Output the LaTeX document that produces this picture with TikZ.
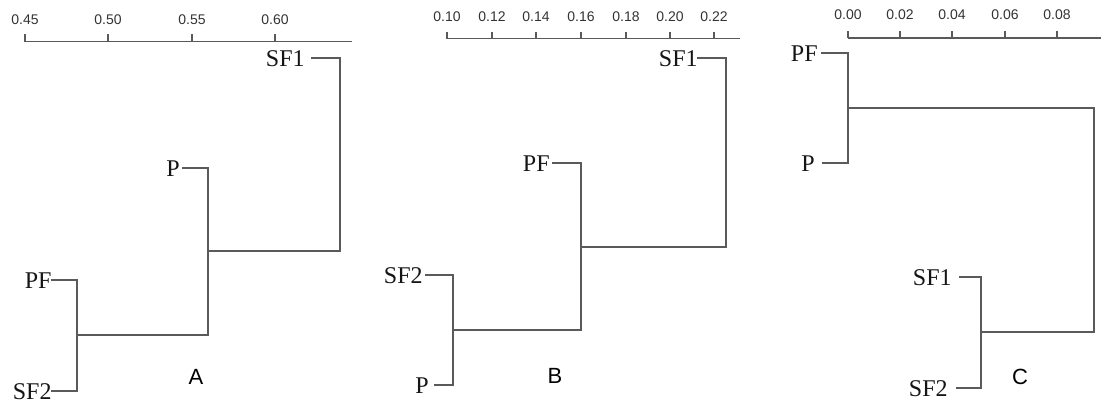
\documentclass[tikz,border=0pt]{standalone}
\usepackage{fontspec}
\setmainfont{Liberation Serif}
\newfontfamily\ticksf{Liberation Sans}
\definecolor{dgline}{HTML}{5A5A5A}
\definecolor{ticktxt}{HTML}{333333}
\definecolor{leaftxt}{HTML}{151515}
\begin{document}
\begin{tikzpicture}[x=0.5pt,y=-0.5pt,
  dline/.style={draw=dgline,line width=0.75pt,line cap=rect},
  axisline/.style={draw=dgline,line width=0.7pt},
  leaf/.style={anchor=east,inner sep=0pt,text=leaftxt,font=\fontsize{12}{14}\selectfont},
  ticklab/.style={inner sep=0pt,text=ticktxt,font=\ticksf\fontsize{7}{8}\selectfont},
  panel/.style={inner sep=0pt,text=black,font=\ticksf\fontsize{11}{13}\selectfont}]
\useasboundingbox (0,0) rectangle (1101,404);

% ---------------- Panel A ----------------
\draw[axisline] (25,41.5) -- (352,41.5);
\foreach \x/\l in {25/0.45,108/0.50,192/0.55,275/0.60}{
  \draw[axisline] (\x,41.5) -- (\x,34);
  \node[ticklab] (tA\l) at (\x,19.5) {\l};
}
\node[leaf] (aSF1) at (305,59) {SF1};
\node[leaf] (aP)   at (180,169) {P};
\node[leaf] (aPF)  at (52,281) {PF};
\node[leaf] (aSF2) at (52,392) {SF2};
\coordinate (aSF1l) at (312,58);
\coordinate (aPl) at (183,168);
\coordinate (aPFl) at (52,280);
\coordinate (aSF2l) at (52,391);
\coordinate (aM1) at (77,335);
\coordinate (aM2) at (208,251);
\coordinate (aR) at (340,58);
\draw[dline] (aPFl) -| (aM1);
\draw[dline] (aSF2l) -| (aM1);
\draw[dline] (aM1) -| (aM2);
\draw[dline] (aPl) -| (aM2);
\draw[dline] (aSF1l) -- (aR) |- (aM2);
\node[panel] (labA) at (196,377) {A};

% ---------------- Panel B ----------------
\draw[axisline] (447,38.5) -- (740,38.5);
\foreach \x/\l in {447/0.10,492/0.12,536/0.14,581/0.16,626/0.18,670/0.20,714/0.22}{
  \draw[axisline] (\x,38.5) -- (\x,31.5);
  \node[ticklab] (tB\l) at (\x,16.5) {\l};
}
\node[leaf] (bSF1) at (698,59) {SF1};
\node[leaf] (bPF)  at (550,164) {PF};
\node[leaf] (bSF2) at (423,276) {SF2};
\node[leaf] (bP)   at (429,386) {P};
\coordinate (bSF1l) at (698,58);
\coordinate (bPFl) at (553,163);
\coordinate (bSF2l) at (426,275);
\coordinate (bPl) at (435,385);
\coordinate (bM1) at (453,330);
\coordinate (bM2) at (581,247);
\coordinate (bR) at (726,58);
\draw[dline] (bSF2l) -| (bM1);
\draw[dline] (bPl) -| (bM1);
\draw[dline] (bM1) -| (bM2);
\draw[dline] (bPFl) -| (bM2);
\draw[dline] (bSF1l) -- (bR) |- (bM2);
\node[panel] (labB) at (555,376) {B};

% ---------------- Panel C ----------------
\draw[axisline] (848,38) -- (1101,38);
\foreach \x/\l in {848/0.00,900/0.02,952/0.04,1005/0.06,1057/0.08}{
  \draw[axisline] (\x,38) -- (\x,31);
  \node[ticklab] (tC\l) at (\x,15) {\l};
}
\node[leaf] (cPF)  at (818,54) {PF};
\node[leaf] (cP)   at (815,164) {P};
\node[leaf] (cSF1) at (952,278) {SF1};
\node[leaf] (cSF2) at (948,389) {SF2};
\coordinate (cPFl) at (822,53);
\coordinate (cPl) at (823,163);
\coordinate (cSF1l) at (960,277);
\coordinate (cSF2l) at (957,388);
\coordinate (cM1) at (848,108);
\coordinate (cM2) at (981,332);
\coordinate (cR) at (1094,108);
\draw[dline] (cPFl) -| (cM1);
\draw[dline] (cPl) -| (cM1);
\draw[dline] (cSF1l) -| (cM2);
\draw[dline] (cSF2l) -| (cM2);
\draw[dline] (cM1) -- (cR) |- (cM2);
\node[panel] (labC) at (1020,377) {C};
\end{tikzpicture}
\end{document}
